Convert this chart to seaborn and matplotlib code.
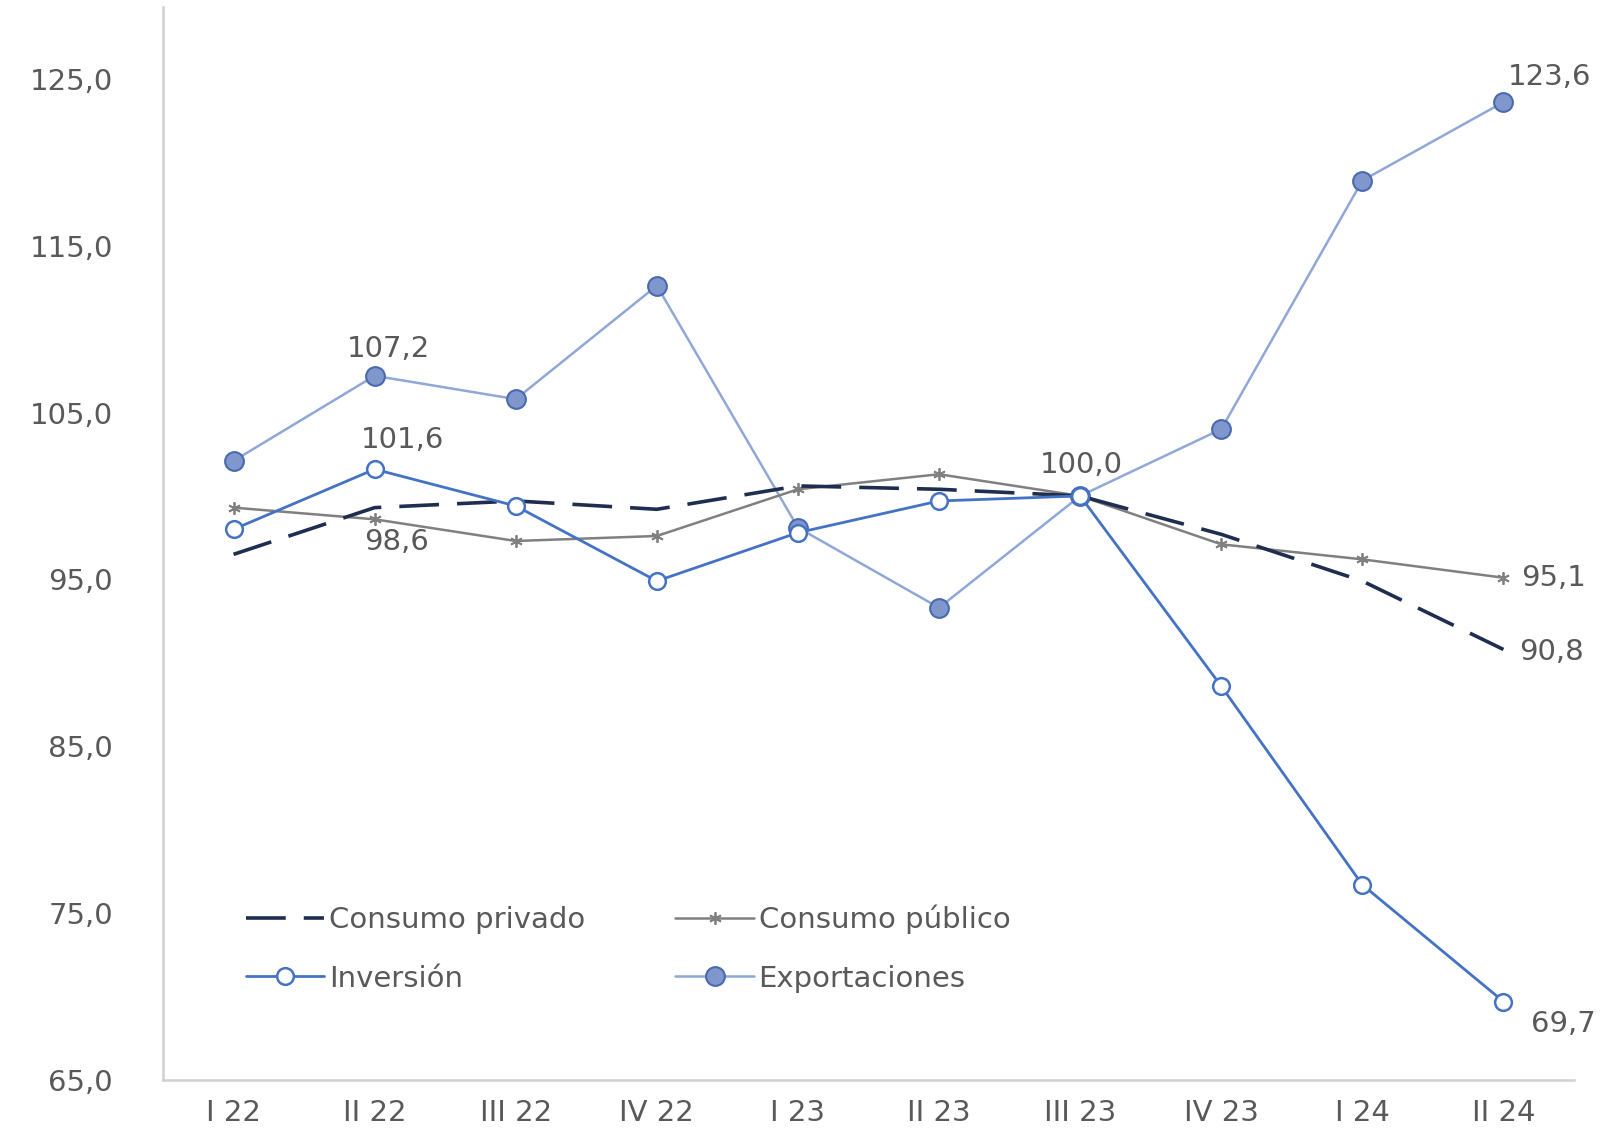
import numpy as np
import pandas as pd
import matplotlib
matplotlib.use("Agg")
import matplotlib.pyplot as plt
import seaborn as sns
from matplotlib.lines import Line2D

quarters = ["I 22", "II 22", "III 22", "IV 22", "I 23", "II 23", "III 23", "IV 23", "I 24", "II 24"]
consumo_privado = [96.5, 99.3, 99.7, 99.2, 100.6, 100.4, 100.0, 97.7, 94.9, 90.8]
consumo_publico = [99.3, 98.6, 97.3, 97.6, 100.4, 101.3, 100.0, 97.1, 96.2, 95.1]
inversion = [98.0, 101.6, 99.4, 94.9, 97.8, 99.7, 100.0, 88.6, 76.7, 69.7]
exportaciones = [102.1, 107.2, 105.8, 112.6, 98.1, 93.3, 100.0, 104.0, 118.9, 123.6]
y_ticks = [65, 75, 85, 95, 105, 115, 125]

sns.set_theme(style="white")
plt.rcParams['font.family'] = ['DejaVu Sans']

TXT = "#595959"
fig = plt.figure(figsize=(16.08, 11.44), dpi=100)
ax = fig.add_axes([163/1608, 1 - 1080/1144, (1574-163)/1608, (1080-7)/1144])

x = np.arange(len(quarters))
df = pd.DataFrame({"x": x, "priv": consumo_privado, "pub": consumo_publico,
                   "inv": inversion, "exp": exportaciones})

c_exp_line = "#8FA8D8"
c_exp_fill = "#7F97CC"
c_exp_edge = "#4A6AB0"
c_inv = "#4472C4"
c_priv = "#1F2E4F"
c_pub = "#808080"

sns.lineplot(data=df, x="x", y="exp", ax=ax, color=c_exp_line, lw=1.8, marker="o",
             markersize=13.5, markerfacecolor=c_exp_fill, markeredgecolor=c_exp_edge,
             markeredgewidth=1.5, zorder=2)
sns.lineplot(data=df, x="x", y="pub", ax=ax, color=c_pub, lw=1.8, marker=(6, 2, 0),
             markersize=9, markeredgecolor=c_pub, markeredgewidth=1.3, zorder=3)
sns.lineplot(data=df, x="x", y="priv", ax=ax, color=c_priv, lw=2.6, zorder=4)
ax.lines[-1].set_dashes((11, 5))
sns.lineplot(data=df, x="x", y="inv", ax=ax, color=c_inv, lw=2.0, marker="o",
             markersize=12, markerfacecolor="white", markeredgecolor=c_inv,
             markeredgewidth=1.8, zorder=5)

ax.set_xlim(-0.5, len(quarters) - 0.5)
ax.set_ylim(65, 129.3)
ax.set_yticks(y_ticks)
ax.set_yticklabels([f"{v:.1f}".replace(".", ",") for v in y_ticks])
ax.set_xticks(x)
ax.set_xticklabels(quarters)
ax.tick_params(axis="both", length=0, labelsize=21, colors=TXT)
ax.tick_params(axis="y", pad=36)
ax.tick_params(axis="x", pad=14)
ax.set_xlabel("")
ax.set_ylabel("")
for s in ["top", "right"]:
    ax.spines[s].set_visible(False)
for s in ["left", "bottom"]:
    ax.spines[s].set_color("#D0D0D0")
    ax.spines[s].set_linewidth(1.8)

def fmt(v):
    return f"{v:.1f}".replace(".", ",")

fs = 21
ax.annotate(fmt(exportaciones[1]), (1, exportaciones[1]), xytext=(10, 9), textcoords="offset points",
            ha="center", va="bottom", fontsize=fs, color=TXT)
ax.annotate(fmt(inversion[1]), (1, inversion[1]), xytext=(20, 11), textcoords="offset points",
            ha="center", va="bottom", fontsize=fs, color=TXT)
ax.annotate(fmt(consumo_publico[1]), (1, consumo_publico[1]), xytext=(16, -6), textcoords="offset points",
            ha="center", va="top", fontsize=fs, color=TXT)
ax.annotate(fmt(100.0), (6, 100.0), xytext=(1, 12), textcoords="offset points",
            ha="center", va="bottom", fontsize=fs, color=TXT)
ax.annotate(fmt(exportaciones[9]), (9, exportaciones[9]), xytext=(33, 8), textcoords="offset points",
            ha="center", va="bottom", fontsize=fs, color=TXT)
ax.annotate(fmt(consumo_publico[9]), (9, consumo_publico[9]), xytext=(13, 0), textcoords="offset points",
            ha="left", va="center", fontsize=fs, color=TXT)
ax.annotate(fmt(consumo_privado[9]), (9, consumo_privado[9]), xytext=(11, -2), textcoords="offset points",
            ha="left", va="center", fontsize=fs, color=TXT)
ax.annotate(fmt(inversion[9]), (9, inversion[9]), xytext=(43, -6), textcoords="offset points",
            ha="center", va="top", fontsize=fs, color=TXT)

h_priv = Line2D([], [], color=c_priv, lw=2.6, dashes=(11, 5))
h_pub = Line2D([], [], color=c_pub, lw=1.8, marker=(6, 2, 0), markersize=9, markeredgewidth=1.3)
h_inv = Line2D([], [], color=c_inv, lw=2.0, marker="o", markersize=12,
               markerfacecolor="white", markeredgecolor=c_inv, markeredgewidth=1.8)
h_exp = Line2D([], [], color=c_exp_line, lw=1.8, marker="o", markersize=13.5,
               markerfacecolor=c_exp_fill, markeredgecolor=c_exp_edge, markeredgewidth=1.5)
leg = ax.legend([h_priv, h_inv, h_pub, h_exp],
                ["Consumo privado", "Inversión", "Consumo público", "Exportaciones"],
                ncol=2, frameon=False, loc="lower left", bbox_to_anchor=(0.04, 0.057),
                fontsize=21, handlelength=2.7, handletextpad=0.15, columnspacing=3.1,
                labelspacing=1.05, labelcolor=TXT)

fig.savefig("out.png", dpi=100, facecolor="white")
